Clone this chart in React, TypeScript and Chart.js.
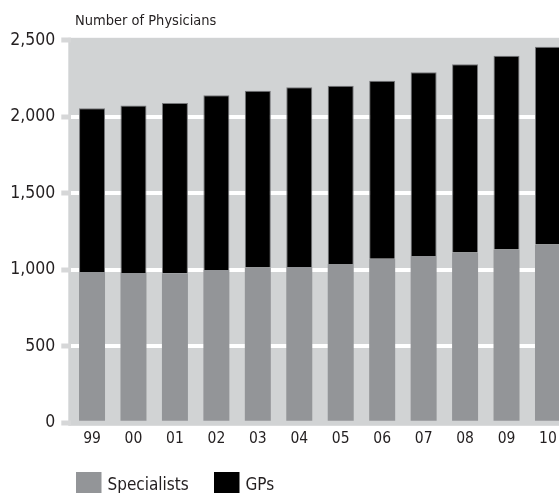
import React, { useEffect, useRef } from "react";
import { Chart, registerables } from "chart.js";

Chart.register(...registerables);

const years = ["99", "00", "01", "02", "03", "04", "05", "06", "07", "08", "09", "10"];
const specialists = [985, 978, 976, 998, 1015, 1018, 1037, 1072, 1089, 1113, 1132, 1165];
const gps = [1069, 1095, 1112, 1141, 1154, 1173, 1164, 1162, 1200, 1228, 1265, 1291];
const yTickValues = [0, 500, 1000, 1500, 2000, 2500];
const titleText = "Number of Physicians";
const seriesNames = ["Specialists", "GPs"];

const FONT = "'DejaVu Sans Condensed', 'Liberation Sans Narrow', sans-serif";
const TEXT = "#231f20";
const BG = "#d1d3d4";
const SPEC = "#939598";
const GP = "#000000";

const bgPlugin = {
  id: "plotBg",
  beforeDraw(chart: any) {
    const { ctx, chartArea } = chart;
    const { left, right, top, bottom } = chartArea;
    ctx.save();
    ctx.fillStyle = BG;
    ctx.fillRect(left - 3, top - 2.2, right - left + 3, bottom - top + 5.2);
    ctx.restore();
  },
};

const annotPlugin = {
  id: "titleLegend",
  afterDraw(chart: any) {
    const { ctx } = chart;
    ctx.save();
    ctx.fillStyle = TEXT;
    ctx.textBaseline = "alphabetic";
    ctx.textAlign = "left";
    ctx.font = `14.5px ${FONT}`;
    ctx.fillText(titleText, 75, 25);

    const items = [
      { label: seriesNames[0], color: SPEC, x: 76 },
      { label: seriesNames[1], color: GP, x: 214 },
    ];
    ctx.font = `17px ${FONT}`;
    items.forEach((it) => {
      ctx.fillStyle = it.color;
      ctx.fillRect(it.x, 472, 25.5, 21);
      ctx.fillStyle = TEXT;
      ctx.fillText(it.label, it.x + 31.5, 490);
    });
    ctx.restore();
  },
};

export default function App() {
  const ref = useRef<HTMLCanvasElement | null>(null);

  useEffect(() => {
    if (!ref.current) return;
    const chart = new Chart(ref.current, {
      type: "bar",
      data: {
        labels: years,
        datasets: [
          {
            label: seriesNames[0],
            data: specialists,
            backgroundColor: SPEC,
            borderWidth: 0,
            barPercentage: 0.627,
            categoryPercentage: 1,
          },
          {
            label: seriesNames[1],
            data: gps,
            backgroundColor: GP,
            borderColor: "#77787b",
            borderWidth: 1,
            borderSkipped: "bottom",
            barPercentage: 0.627,
            categoryPercentage: 1,
          },
        ],
      },
      options: {
        responsive: false,
        animation: false,
        layout: { padding: { top: 40, right: 11.3, left: 0, bottom: 0 } },
        plugins: {
          legend: { display: false },
          title: { display: false },
          tooltip: { enabled: false },
        },
        scales: {
          x: {
            stacked: true,
            grid: { display: false, drawTicks: false },
            border: { display: false },
            ticks: {
              color: TEXT,
              font: { family: FONT, size: 15.5 },
              padding: 7,
            },
            afterFit(scale: any) {
              scale.height = 70.2;
            },
          },
          y: {
            stacked: true,
            min: 0,
            max: 2500,
            border: { display: false },
            afterBuildTicks(scale: any) {
              scale.ticks = yTickValues.map((v) => ({ value: v }));
            },
            afterFit(scale: any) {
              scale.width = 71.3;
            },
            grid: {
              color: (c: any) =>
                c.tick && (c.tick.value === 0 || c.tick.value === 2500) ? "rgba(0,0,0,0)" : "#ffffff",
              lineWidth: 4,
              drawTicks: true,
              tickLength: 10,
              tickWidth: 5,
              tickColor: "#d6d7d8",
            },
            ticks: {
              color: TEXT,
              font: { family: FONT, size: 17.5 },
              padding: 6,
              callback: (v: any) => Number(v).toLocaleString("en-US"),
            },
          },
        },
      },
      plugins: [bgPlugin, annotPlugin],
    });
    return () => chart.destroy();
  }, []);

  return (
    <div
      style={{
        position: "fixed",
        left: 0,
        top: 0,
        width: 559,
        height: 493,
        overflow: "hidden",
        background: "#ffffff",
      }}
    >
      <canvas ref={ref} width={580} height={493} style={{ display: "block" }} />
    </div>
  );
}
